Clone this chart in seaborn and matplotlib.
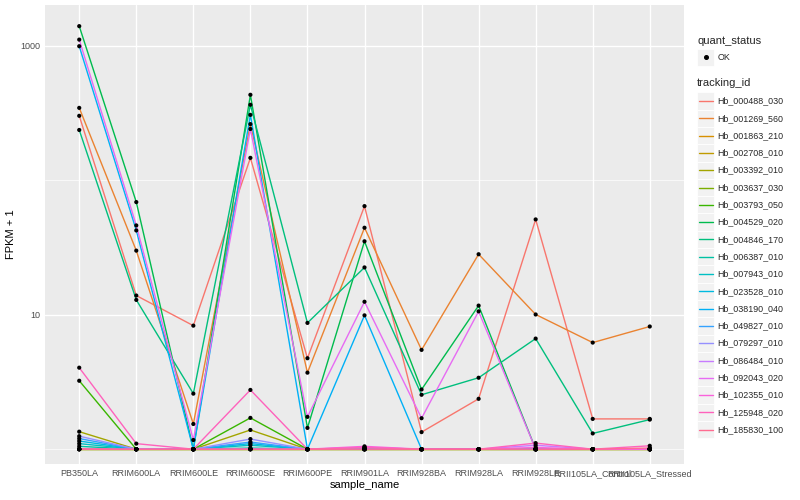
import numpy as np
import pandas as pd
import matplotlib
matplotlib.use('Agg')
import matplotlib.pyplot as plt
from matplotlib.patches import Rectangle
from matplotlib.lines import Line2D
from matplotlib.ticker import FixedLocator, NullFormatter
import seaborn as sns

# samples on the x axis
samples = ['PB350LA', 'RRIM600LA', 'RRIM600LE', 'RRIM600SE', 'RRIM600PE',
           'RRIM901LA', 'RRIM928BA', 'RRIM928LA', 'RRIM928LE',
           'RRII105LA_Control', 'RRII105LA_Stressed']

tracking_ids = ['Hb_000488_030', 'Hb_001269_560', 'Hb_001863_210', 'Hb_002708_010',
                'Hb_003392_010', 'Hb_003637_030', 'Hb_003793_050', 'Hb_004529_020',
                'Hb_004846_170', 'Hb_006387_010', 'Hb_007943_010', 'Hb_023528_010',
                'Hb_038190_040', 'Hb_049827_010', 'Hb_079297_010', 'Hb_086484_010',
                'Hb_092043_020', 'Hb_102355_010', 'Hb_125948_020', 'Hb_185830_100']

# ggplot hue palette for 20 levels
colors = ['#F8766D', '#EA8331', '#D89000', '#C09B00', '#A3A500', '#7CAE00',
          '#39B600', '#00BB4E', '#00BF7D', '#00C1A3', '#00BFC4', '#00BAE0',
          '#00B0F6', '#35A2FF', '#9590FF', '#C77CFF', '#E76BF3', '#FA62DB',
          '#FF62BC', '#FF6C91']

# FPKM + 1, one list per gene, in sample order
hb_000488_030 = [302, 13.9, 8.3, 147, 4.75, 64.3, 1.34, 2.37, 51.2, 1.68, 1.68]
hb_001269_560 = [346, 30.0, 1.54, 262, 3.71, 44.4, 5.48, 28.2, 10.05, 6.21, 8.18]
hb_001863_210 = [1.0, 1.0, 1.0, 1.0, 1.0, 1.02, 1.0, 1.0, 1.0, 1.0, 1.0]
hb_002708_010 = [1.0, 1.0, 1.0, 1.0, 1.0, 1.0, 1.0, 1.0, 1.0, 1.0, 1.0]
hb_003392_010 = [1.35, 1.0, 1.0, 1.39, 1.0, 1.0, 1.0, 1.0, 1.0, 1.0, 1.0]
hb_003637_030 = [1.0, 1.0, 1.0, 1.0, 1.0, 1.0, 1.0, 1.0, 1.0, 1.0, 1.0]
hb_003793_050 = [3.23, 1.0, 1.0, 1.71, 1.0, 1.0, 1.0, 1.0, 1.0, 1.0, 1.0]
hb_004529_020 = [1403, 68.9, 1.0, 433, 1.44, 35.2, 2.78, 11.7, 1.0, 1.0, 1.0]
hb_004846_170 = [237, 12.9, 2.59, 365, 8.7, 22.5, 2.54, 3.4, 6.65, 1.31, 1.66]
hb_006387_010 = [1.05, 1.0, 1.0, 1.02, 1.0, 1.0, 1.0, 1.0, 1.0, 1.0, 1.0]
hb_007943_010 = [1.10, 1.0, 1.0, 1.07, 1.0, 1.0, 1.0, 1.0, 1.0, 1.0, 1.0]
hb_023528_010 = [1.15, 1.0, 1.0, 1.10, 1.0, 1.0, 1.0, 1.0, 1.0, 1.0, 1.0]
hb_038190_040 = [995, 42.4, 1.0, 307, 1.0, 9.9, 1.0, 1.0, 1.0, 1.0, 1.0]
hb_049827_010 = [1.20, 1.0, 1.0, 1.13, 1.0, 1.0, 1.0, 1.0, 1.0, 1.0, 1.0]
hb_079297_010 = [1.25, 1.0, 1.0, 1.19, 1.0, 1.0, 1.0, 1.0, 1.0, 1.0, 1.0]
hb_086484_010 = [1.0, 1.0, 1.0, 1.0, 1.0, 1.03, 1.0, 1.0, 1.07, 1.0, 1.0]
hb_092043_020 = [1114, 46.2, 1.17, 241, 1.74, 12.5, 1.70, 10.6, 1.0, 1.0, 1.0]
hb_102355_010 = [1.0, 1.0, 1.0, 1.0, 1.0, 1.05, 1.0, 1.0, 1.03, 1.0, 1.0]
hb_125948_020 = [4.04, 1.10, 1.0, 2.76, 1.0, 1.03, 1.0, 1.0, 1.11, 1.0, 1.06]
hb_185830_100 = [1.0, 1.0, 1.0, 1.0, 1.0, 1.0, 1.0, 1.0, 1.0, 1.0, 1.02]

values = [hb_000488_030, hb_001269_560, hb_001863_210, hb_002708_010,
          hb_003392_010, hb_003637_030, hb_003793_050, hb_004529_020,
          hb_004846_170, hb_006387_010, hb_007943_010, hb_023528_010,
          hb_038190_040, hb_049827_010, hb_079297_010, hb_086484_010,
          hb_092043_020, hb_102355_010, hb_125948_020, hb_185830_100]

rows = []
for tid, vals in zip(tracking_ids, values):
    for s, v in zip(samples, vals):
        rows.append({'tracking_id': tid, 'sample_name': s, 'fpkm': v, 'quant_status': 'OK'})
df = pd.DataFrame(rows)

sns.set_theme(style='darkgrid')
plt.rcParams['font.family'] = ['Liberation Sans', 'DejaVu Sans']

W, H = 800, 500
fig = plt.figure(figsize=(8, 5), dpi=100)
fig.patch.set_facecolor('white')
# panel in pixel coordinates: left, top, right, bottom
pl, pt, pr, pb = 45, 5, 684, 464
ax = fig.add_axes([pl / W, 1 - pb / H, (pr - pl) / W, (pb - pt) / H])
ax.set_facecolor('#EBEBEB')

palette = dict(zip(tracking_ids, colors))
sns.lineplot(data=df, x='sample_name', y='fpkm', hue='tracking_id', palette=palette,
             hue_order=tracking_ids, units='tracking_id', estimator=None, sort=False,
             linewidth=1.0, legend=False, ax=ax)
sns.scatterplot(data=df, x='sample_name', y='fpkm', color='black', s=9,
                edgecolor='none', legend=False, ax=ax, zorder=5)

ax.set_yscale('log')
lo, hi = np.log10(df['fpkm'].min()), np.log10(df['fpkm'].max())
pad = 0.05 * (hi - lo)
ax.set_ylim(10 ** (lo - 0.7 * pad), 10 ** (hi + pad))
ax.set_xlim(-0.6, len(samples) - 0.4)

ax.yaxis.set_major_locator(FixedLocator([10, 1000]))
ax.set_yticklabels(['10', '1000'])
ax.yaxis.set_minor_locator(FixedLocator([1, 100]))
ax.yaxis.set_minor_formatter(NullFormatter())

ax.grid(which='major', color='white', linewidth=1.0)
ax.grid(which='minor', axis='y', color='white', linewidth=0.5)
for sp in ax.spines.values():
    sp.set_visible(False)
ax.tick_params(axis='both', which='major', length=2.2, width=0.6, color='#333333',
               labelsize=6.5, labelcolor='#4D4D4D', pad=1.5)
ax.tick_params(axis='y', which='minor', length=0)

ax.set_xlabel('sample_name', fontsize=8, color='black', labelpad=1.5)
ax.set_ylabel('FPKM + 1', fontsize=8, color='black', labelpad=3)


# legend drawn by hand in pixel coordinates
def fx(x):
    return x / W


def fy(y):
    return 1 - y / H


key = 17.3
kx = 697
fig.text(fx(kx), fy(40.5), 'quant_status', fontsize=8, va='center', ha='left')
fig.add_artist(Rectangle((fx(kx), fy(57.3 + key / 2)), key / W, key / H,
                         transform=fig.transFigure, facecolor='#F2F2F2',
                         edgecolor='white', linewidth=0.6))
fig.add_artist(Line2D([fx(kx + key / 2)], [fy(57.3)], marker='o', markersize=2.6,
                      color='black', transform=fig.transFigure))
fig.text(fx(kx + key + 3), fy(57.3), 'OK', fontsize=6.4, va='center', ha='left')

fig.text(fx(kx), fy(83.5), 'tracking_id', fontsize=8, va='center', ha='left')
for i, (tid, c) in enumerate(zip(tracking_ids, colors)):
    yc = 101 + i * key
    fig.add_artist(Rectangle((fx(kx), fy(yc + key / 2)), key / W, key / H,
                             transform=fig.transFigure, facecolor='#F2F2F2',
                             edgecolor='white', linewidth=0.6))
    fig.add_artist(Line2D([fx(kx + 1.5), fx(kx + key - 1.5)], [fy(yc), fy(yc)],
                          color=c, linewidth=1.0, transform=fig.transFigure))
    fig.text(fx(kx + key + 3), fy(yc), tid, fontsize=6.4, va='center', ha='left')

fig.savefig('out.png', dpi=100)
plt.close(fig)
